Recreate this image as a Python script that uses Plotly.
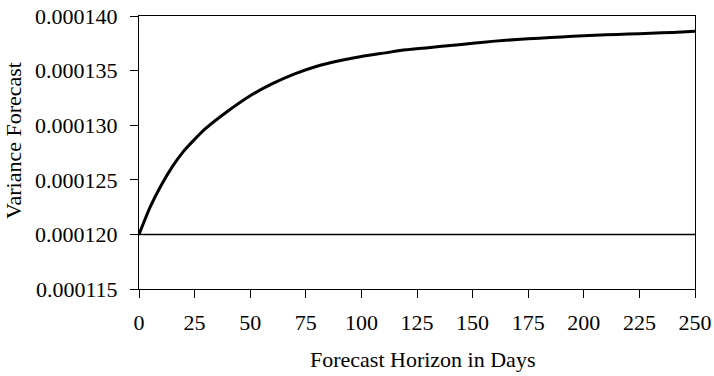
import plotly.graph_objects as go

# Forecast horizon (days) and the variance forecast read at each horizon
horizon_days = [0, 5, 10, 15, 20, 25, 30, 40, 50, 60, 70, 80, 90, 100, 110, 120,
                130, 140, 150, 160, 170, 180, 190, 200, 210, 220, 230, 240, 250]
variance_forecast = [0.0001200, 0.0001225, 0.0001245, 0.0001262, 0.0001276, 0.0001287,
                     0.0001297, 0.0001313, 0.0001327, 0.0001338, 0.0001347, 0.0001354,
                     0.0001359, 0.0001363, 0.0001366, 0.0001369, 0.0001371, 0.0001373,
                     0.0001375, 0.0001377, 0.00013785, 0.00013797, 0.00013808, 0.0001382,
                     0.00013828, 0.00013835, 0.00013842, 0.0001385, 0.0001386]

# Starting (current) variance level drawn as a flat reference line
base_days = [0, 250]
base_level = [0.000120, 0.000120]

y_ticks = [0.000115, 0.000120, 0.000125, 0.000130, 0.000135, 0.000140]
x_ticks = [0, 25, 50, 75, 100, 125, 150, 175, 200, 225, 250]

FONT = "Liberation Serif, Times New Roman, serif"
FS = 22
text_font = dict(family=FONT, size=FS, color="black")

fig = go.Figure()
fig.add_trace(go.Scatter(x=base_days, y=base_level, mode="lines",
                         line=dict(color="black", width=1.5), hoverinfo="skip"))
fig.add_trace(go.Scatter(x=horizon_days, y=variance_forecast, mode="lines",
                         line=dict(color="black", width=3, shape="spline", smoothing=0.6)))

axis_common = dict(showline=True, linecolor="black", linewidth=1, mirror=True,
                   ticks="outside", ticklen=8, tickwidth=1, tickcolor="black",
                   showgrid=False, zeroline=False, automargin=False,
                   tickfont=text_font)

fig.update_xaxes(range=[0, 250], tickvals=x_ticks, ticklabelstandoff=6, **axis_common)
fig.update_yaxes(range=[0.000115, 0.000140], tickvals=y_ticks, tickformat=".6f",
                 ticklabelstandoff=8, **axis_common)

# Axis titles
fig.add_annotation(text="Forecast Horizon in Days", xref="paper", yref="paper",
                   x=0.51, y=-0.258, xanchor="center", yanchor="middle",
                   showarrow=False, font=text_font)
fig.add_annotation(text="Variance Forecast", xref="paper", yref="paper",
                   x=-0.227, y=0.545, xanchor="center", yanchor="middle",
                   textangle=-90, showarrow=False, font=text_font)

fig.update_layout(width=714, height=376, showlegend=False,
                  paper_bgcolor="white", plot_bgcolor="white",
                  margin=dict(l=139, r=19, t=16, b=87))

fig.write_html("out.html")
